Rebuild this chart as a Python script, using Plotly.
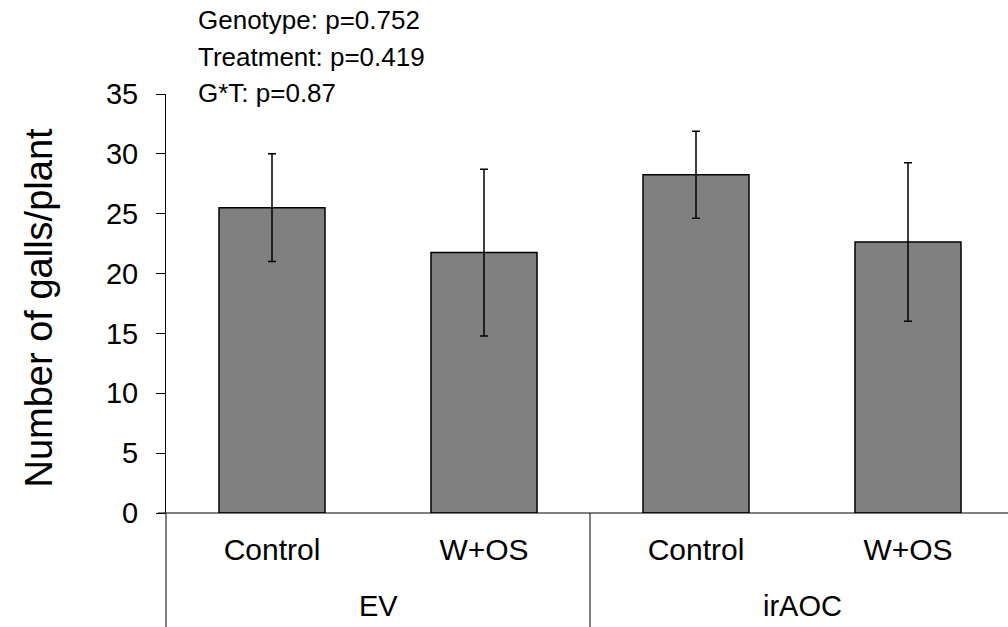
import plotly.graph_objects as go

genotypes = ["EV", "EV", "irAOC", "irAOC"]
treatments = ["Control", "W+OS", "Control", "W+OS"]
means = [25.5, 21.75, 28.25, 22.63]
errors = [4.5, 6.97, 3.63, 6.62]
group_names = ["EV", "irAOC"]
stats_lines = ["Genotype: p=0.752", "Treatment: p=0.419", "G*T: p=0.87"]
y_ticks = [0, 5, 10, 15, 20, 25, 30, 35]

W, H = 1008, 627
ml, mr, mt, mb = 166, 0, 94, 114
plot_w = W - ml - mr
plot_h = H - mt - mb
cat_px = 212.0
xmin = -0.5
xmax = xmin + plot_w / cat_px

FONT = "Liberation Sans, Arial, sans-serif"

xs = list(range(len(means)))

fig = go.Figure()
fig.add_trace(go.Bar(
    x=xs, y=means, width=0.5,
    marker=dict(color="#808080", line=dict(color="black", width=1.5)),
    error_y=dict(type="data", array=errors, visible=True, color="black",
                 thickness=1.5, width=4),
    showlegend=False,
))

def xp(v):
    return (v - xmin) / (xmax - xmin)

shapes = []
shapes.append(dict(type="line", xref="paper", yref="paper", x0=-8 / plot_w, x1=1,
                   y0=0, y1=0, line=dict(color="black", width=1)))
for b in [-0.5, 1.5, 3.5]:
    shapes.append(dict(type="line", xref="paper", yref="paper", x0=xp(b), x1=xp(b),
                       y0=0, y1=-mb / plot_h, line=dict(color="black", width=1)))

annotations = []
for i, g in enumerate(group_names):
    annotations.append(dict(x=xp(2 * i + 0.5), xref="paper", y=0, yref="paper",
                            yshift=-(606 - (H - mb)), yanchor="middle", xanchor="center",
                            text=g, showarrow=False,
                            font=dict(family=FONT, size=29, color="black")))
for i, s in enumerate(stats_lines):
    annotations.append(dict(x=0, xref="paper", xshift=30, y=1, yref="paper",
                            yshift=[74, 37, 1][i], yanchor="middle", xanchor="left",
                            text=s, showarrow=False,
                            font=dict(family=FONT, size=26, color="black")))
annotations.append(dict(x=0, xref="paper", xshift=38 - ml, y=0.5, yref="paper",
                        yshift=-4, textangle=-90, xanchor="center", yanchor="middle",
                        text="Number of galls/plant", showarrow=False,
                        font=dict(family=FONT, size=38, color="black")))

fig.update_layout(
    width=W, height=H,
    margin=dict(l=ml, r=mr, t=mt, b=mb, pad=0),
    paper_bgcolor="white", plot_bgcolor="white",
    font=dict(family=FONT, color="black"),
    shapes=shapes, annotations=annotations,
    xaxis=dict(range=[xmin, xmax], tickvals=xs, ticktext=treatments,
               showgrid=False, zeroline=False, showline=False, ticks="",
               tickfont=dict(family=FONT, size=30, color="black"),
               ticklabelstandoff=16),
    yaxis=dict(range=[0, 35], tickvals=y_ticks, showgrid=False, zeroline=False,
               showline=True, linecolor="black", linewidth=1,
               ticks="outside", ticklen=9, tickcolor="black", tickwidth=1,
               tickfont=dict(family=FONT, size=29, color="black"),
               ticklabelstandoff=12),
)

fig.write_html("out.html", config={"displayModeBar": False},
               post_script="document.body.style.margin='0';")
